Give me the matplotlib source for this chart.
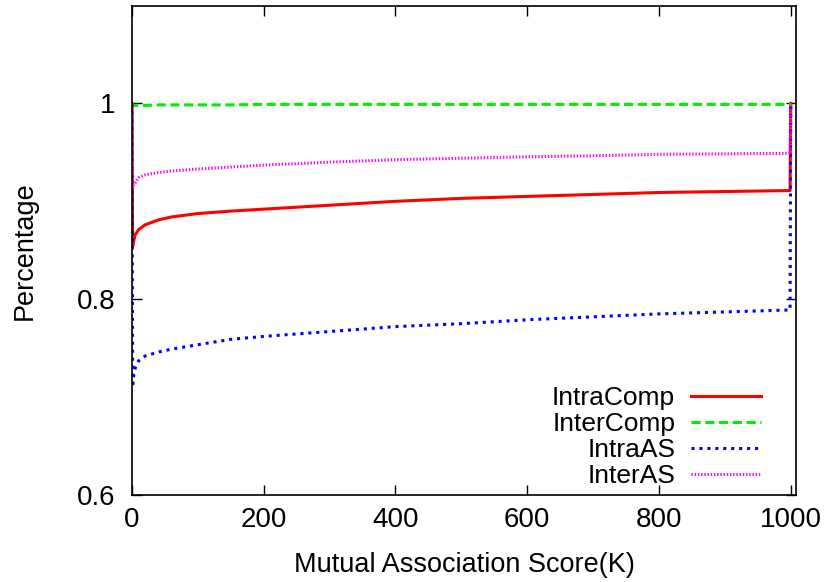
import matplotlib
matplotlib.use('Agg')
import matplotlib.pyplot as plt

plt.rcParams['font.family'] = ['Liberation Sans', 'DejaVu Sans']

# Datos (x en miles)
score = [0, 1, 2, 5, 10, 20, 40, 60, 100, 150, 200, 300, 400, 500, 600, 700, 800, 900, 999, 1000]

intra_comp = [1.0, 0.854, 0.858, 0.866, 0.871, 0.876, 0.881, 0.884, 0.8875, 0.890, 0.892,
              0.896, 0.900, 0.903, 0.905, 0.907, 0.909, 0.910, 0.911, 1.0]
inter_comp = [1.0, 0.997, 0.998, 0.998, 0.998, 0.998, 0.9985, 0.9985, 0.9985, 0.9985, 0.999,
              0.999, 0.999, 0.999, 0.999, 0.999, 0.999, 0.999, 0.999, 1.0]
intra_as = [1.0, 0.710, 0.720, 0.730, 0.737, 0.742, 0.746, 0.749, 0.7535, 0.759, 0.762,
            0.767, 0.772, 0.775, 0.779, 0.782, 0.785, 0.787, 0.789, 1.0]
inter_as = [1.0, 0.912, 0.916, 0.919, 0.924, 0.927, 0.9295, 0.931, 0.933, 0.935, 0.937,
            0.940, 0.9425, 0.944, 0.9455, 0.9465, 0.948, 0.9485, 0.949, 1.0]

x_ticks = [0, 200, 400, 600, 800, 1000]
y_ticks = [0.6, 0.8, 1.0]
y_tick_labels = ['0.6', '0.8', '1']

fig = plt.figure(figsize=(8.26, 5.82), dpi=100)
ax = fig.add_axes([0.1598, 0.1495, 0.9637 - 0.1598, 0.9905 - 0.1495])

ax.plot(score, intra_comp, color='#ff0000', linewidth=2.2, linestyle='-', label='IntraComp')
ax.plot(score, inter_comp, color='#00ee00', linewidth=2.2, linestyle=(0, (3, 1.5)), label='InterComp')
ax.plot(score, intra_as, color='#0000ff', linewidth=2.2, linestyle=(0, (1, 1.6)), label='IntraAS')
ax.plot(score, inter_as, color='#ff00ff', linewidth=2.2, linestyle=(0, (0.45, 0.6)), label='InterAS')

ax.set_xlim(0, 1008)
ax.set_ylim(0.6, 1.1)
ax.set_xticks(x_ticks)
ax.set_yticks(y_ticks)
ax.set_yticklabels(y_tick_labels)
ax.tick_params(direction='in', top=True, right=True, length=7, width=1, labelsize=20)
ax.tick_params(axis='y', pad=12)
ax.tick_params(axis='x', pad=9)

for s in ax.spines.values():
    s.set_linewidth(1.2)

ax.set_xlabel('Mutual Association Score(K)', fontsize=19.5, labelpad=13)
ax.set_ylabel('Percentage', fontsize=19.5, labelpad=28)

leg = ax.legend(loc='lower right', bbox_to_anchor=(0.975, -0.024), frameon=False, fontsize=19,
                markerfirst=False, handlelength=2.65, handletextpad=0.6,
                labelspacing=0.08, borderaxespad=0.3)
for t in leg.get_texts():
    t.set_ha('right')

fig.savefig('out.png', dpi=100)
